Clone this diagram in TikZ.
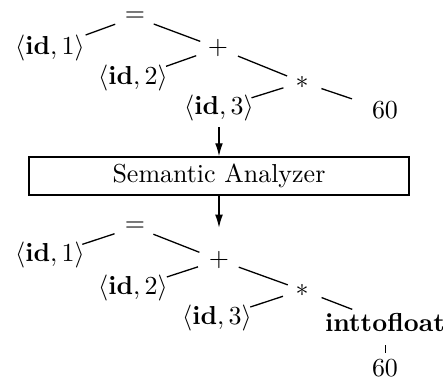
\documentclass[tikz,border=0pt]{standalone}
\usetikzlibrary{arrows.meta}
\begin{document}
\begin{tikzpicture}[x=0.385pt,y=-0.385pt,
  lab/.style={inner sep=0pt, font=\fontsize{10}{12}\selectfont},
  edge/.style={line width=0.5pt},
  arr/.style={line width=0.5pt,-{Latex[length=5pt,width=3pt]}}]
\useasboundingbox (0,0) rectangle (443,382);
% top tree
\node[lab] (eqA) at (135,17) {$=$};
\node[lab] (idA1) at (50,48) {$\langle \mathbf{id},1\rangle$};
\node[lab] (plA) at (218,48) {$+$};
\node[lab] (idA2) at (133,78) {$\langle \mathbf{id},2\rangle$};
\node[lab] (stA) at (302,82) {$*$};
\node[lab] (idA3) at (219,108) {$\langle \mathbf{id},3\rangle$};
\node[lab] (sxA) at (385,110) {60};
\draw[edge, shorten <=14.6pt, shorten >=8.1pt] (idA1.center) -- (eqA.center);
\draw[edge, shorten <=7.7pt, shorten >=7.3pt] (eqA.center) -- (plA.center);
\draw[edge, shorten <=8.9pt, shorten >=13.5pt] (plA.center) -- (idA2.center);
\draw[edge, shorten <=8.3pt, shorten >=6.2pt] (plA.center) -- (stA.center);
\draw[edge, shorten <=7.5pt, shorten >=13.1pt] (stA.center) -- (idA3.center);
\draw[edge, shorten <=7.9pt, shorten >=13.4pt] (stA.center) -- (sxA.center);
% box
\node[draw, line width=0.6pt, minimum width=146.3pt, minimum height=14.6pt, inner sep=0pt, lab] (box) at (219,176) {Semantic Analyzer};
\draw[arr, shorten <=2.3pt] (idA3.south) -- (box.north);
% bottom tree
\node[lab] (eqB) at (135,227) {$=$};
\node[lab] (idB1) at (50,255) {$\langle \mathbf{id},1\rangle$};
\node[lab] (plB) at (219,260) {$+$};
\node[lab] (idB2) at (133,288) {$\langle \mathbf{id},2\rangle$};
\node[lab] (stB) at (302,290) {$*$};
\node[lab] (idB3) at (217,318) {$\langle \mathbf{id},3\rangle$};
\node[lab] (itf) at (385,322) {\textbf{inttofloat}};
\node[lab] (sxB) at (385,368) {60};
\draw[arr, shorten >=8.9pt] (box.south) -- (plB.north);
\draw[edge, shorten <=13.1pt, shorten >=8.3pt] (idB1.center) -- (eqB.center);
\draw[edge, shorten <=7.6pt, shorten >=8.1pt] (eqB.center) -- (plB.center);
\draw[edge, shorten <=8.5pt, shorten >=13.7pt] (plB.center) -- (idB2.center);
\draw[edge, shorten <=8.1pt, shorten >=5.8pt] (plB.center) -- (stB.center);
\draw[edge, shorten <=7.7pt, shorten >=13.5pt] (stB.center) -- (idB3.center);
\draw[edge, shorten <=8.1pt, shorten >=13.5pt] (stB.center) -- (itf.center);
\draw[edge, line width=0.3pt, shorten <=8.9pt, shorten >=5.8pt] (itf.center) -- (sxB.center);
\end{tikzpicture}
\end{document}
